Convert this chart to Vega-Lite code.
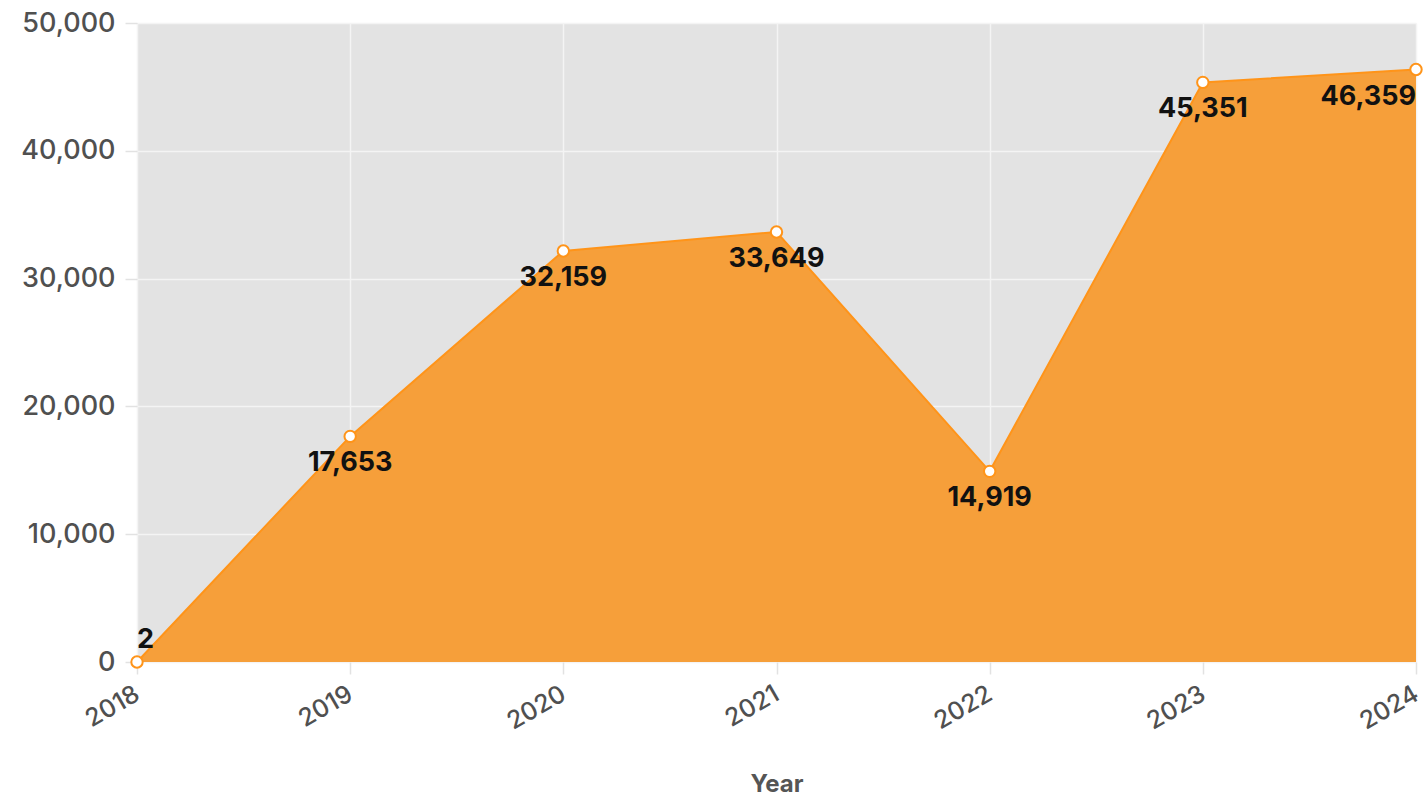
{
  "$schema": "https://vega.github.io/schema/vega-lite/v6.json",
  "autosize": {"type": "none"},
  "padding": {"left": 137, "top": 23, "right": 11, "bottom": 140},
  "width": 1279,
  "height": 639,
  "background": "white",
  "config": {
    "view": {"fill": "#e3e3e3", "stroke": null},
    "font": "Inter"
  },
  "data": {
    "values": [
      {"Year": 2018, "Value": 2},
      {"Year": 2019, "Value": 17653},
      {"Year": 2020, "Value": 32159},
      {"Year": 2021, "Value": 33649},
      {"Year": 2022, "Value": 14919},
      {"Year": 2023, "Value": 45351},
      {"Year": 2024, "Value": 46359}
    ]
  },
  "encoding": {
    "x": {
      "field": "Year", "type": "quantitative",
      "scale": {"domain": [2018, 2024], "nice": false, "zero": false},
      "axis": {
        "values": [2018, 2019, 2020, 2021, 2022, 2023, 2024],
        "format": "d",
        "title": "Year",
        "titleFont": "Inter", "titleFontSize": 24, "titleFontWeight": "bold", "titleColor": "#555555", "titlePadding": 38,
        "labelAngle": -30, "labelAlign": "right", "labelBaseline": "top",
        "labelFont": "Inter", "labelFontSize": 25, "labelColor": "#505050", "labelFontWeight": 500, "labelPadding": 7, "labelOffset": -6,
        "grid": true, "gridColor": "#f4f4f4", "gridWidth": 1.5,
        "domain": false, "tickColor": "#e2e2e2", "tickSize": 12, "tickWidth": 1.5
      }
    },
    "y": {
      "field": "Value", "type": "quantitative",
      "scale": {"domain": [0, 50000], "nice": false},
      "axis": {
        "values": [0, 10000, 20000, 30000, 40000, 50000],
        "format": ",d",
        "title": null,
        "labelFont": "Inter", "labelFontSize": 27, "labelColor": "#505050", "labelFontWeight": 500, "labelPadding": 10,
        "grid": true, "gridColor": "#f4f4f4", "gridWidth": 1.5,
        "domain": false, "tickColor": "#e2e2e2", "tickSize": 12, "tickWidth": 1.5
      }
    }
  },
  "layer": [
    {"mark": {"type": "area", "color": "#f69f3a", "opacity": 1, "line": {"color": "#ff9419", "strokeWidth": 2}}},
    {"mark": {"type": "point", "filled": true, "fill": "#ffffff", "stroke": "#ff9419", "strokeWidth": 2, "size": 130, "opacity": 1}},
    {
      "transform": [{"filter": "datum.Year == 2018"}],
      "mark": {"type": "text", "align": "left", "baseline": "bottom", "dx": 0, "dy": -8, "font": "Inter", "fontSize": 27, "fontWeight": "bold", "color": "#111111"},
      "encoding": {"text": {"field": "Value", "type": "quantitative", "format": ",d"}}
    },
    {
      "transform": [{"filter": "datum.Year > 2018 && datum.Year < 2024"}],
      "mark": {"type": "text", "align": "center", "baseline": "middle", "dy": 27, "font": "Inter", "fontSize": 27, "fontWeight": "bold", "color": "#111111"},
      "encoding": {"text": {"field": "Value", "type": "quantitative", "format": ",d"}}
    },
    {
      "transform": [{"filter": "datum.Year == 2024"}],
      "mark": {"type": "text", "align": "right", "baseline": "middle", "dy": 27, "font": "Inter", "fontSize": 27, "fontWeight": "bold", "color": "#111111"},
      "encoding": {"text": {"field": "Value", "type": "quantitative", "format": ",d"}}
    }
  ]
}
